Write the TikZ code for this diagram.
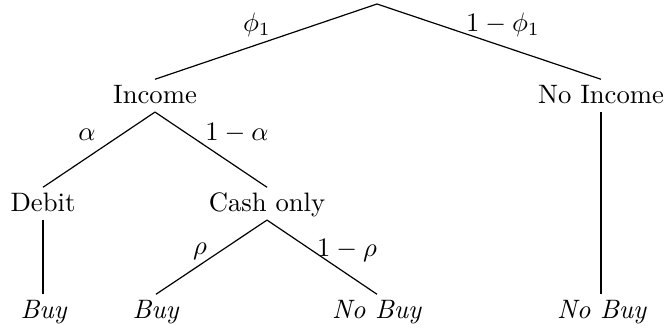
\documentclass[tikz,border=0pt]{standalone}
\begin{document}
\begin{tikzpicture}[x=0.375pt,y=-0.375pt,
  state/.style={inner sep=0pt, text height=8.7pt, text depth=3.2pt, anchor=base},
  prob/.style={inner sep=0pt, anchor=center},
  branch/.style={draw=black, line width=0.45pt}]
\useasboundingbox (0,0) rectangle (664,327);
\coordinate (root) at (377,4);
\node[state] (inc) at (155,103) {Income};
\node[state] (noinc) at (601,103) {No Income};
\node[state] (deb) at (43,211) {Debit};
\node[state] (cash) at (267,211) {Cash only};
\node[state] (buyA) at (44,318) {\textit{Buy}};
\node[state] (buyB) at (156,318) {\textit{Buy}};
\node[state] (nobuyA) at (377,318) {\textit{No Buy}};
\node[state] (nobuyB) at (602,318) {\textit{No Buy}};
\draw[branch] (root) -- (inc.north);
\draw[branch] (root) -- (noinc.north);
\draw[branch] (inc.south) -- (deb.north);
\draw[branch] (inc.south) -- (cash.north);
\draw[branch] (deb.south) -- (buyA.north -| deb.south);
\draw[branch] (cash.south) -- (buyB.north);
\draw[branch] (cash.south) -- (nobuyA.north);
\draw[branch] (noinc.south) -- (nobuyB.north -| noinc.south);
\node[prob] (lphi) at (257,25) {$\phi_1$};
\node[prob] (lnphi) at (503,25) {$1-\phi_1$};
\node[prob] (lal) at (87,135) {$\alpha$};
\node[prob] (lnal) at (237,133) {$1-\alpha$};
\node[prob] (lrho) at (200,251) {$\rho$};
\node[prob] (lnrho) at (347,250) {$1-\rho$};
\end{tikzpicture}
\end{document}
